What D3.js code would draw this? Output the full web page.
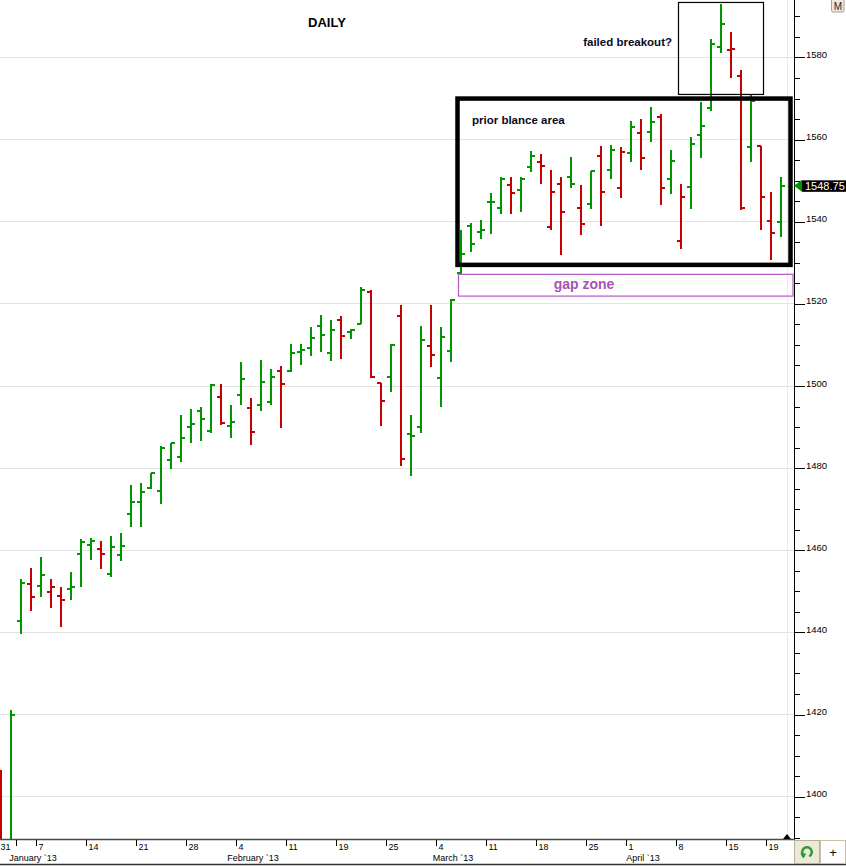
<!DOCTYPE html>
<html>
<head>
<meta charset="utf-8">
<script src="https://cdn.jsdelivr.net/npm/d3@7"></script>
<style>
  body { margin: 0; background: #fff; }
  svg { display: block; font-family: "Liberation Sans", Arial, sans-serif; }
</style>
</head>
<body>
<svg id="chart"></svg>
<script>
const width = 846;
const height = 867;
const plot = {left: 0, right: 794, top: 0, bottom: 839};

// Daily OHLC bars, one per trading day (first bar = 28 Dec)
const opens = [1403, 1387, 1442.8, 1451.8, 1451.3, 1449.9, 1448.9, 1450.5, 1459.1, 1461.3,
    1460.4, 1454.3, 1458.8, 1468.9, 1471.8, 1475.2, 1474.5, 1482.0, 1482.8, 1490.1,
    1493.9, 1489.1, 1497.4, 1490.3, 1497.9, 1494.7, 1495.4, 1496.2, 1503.7, 1503.7,
    1508.3, 1509.3, 1514.7, 1508.1, 1516.1, 1513.2, 1515.1, 1522.9, 1500.8, 1502.2,
    1517.1, 1488.4, 1490.1, 1509.7, 1502.0, 1508.6, 1527.6, 1538.9, 1537.5, 1544.7,
    1543.4, 1548.9, 1547.8, 1553.4, 1554.5, 1538.8, 1549.2, 1550.9, 1543.4, 1544.4,
    1556.1, 1552.5, 1548.3, 1556.8, 1561.7, 1561.9, 1565.6, 1550.4, 1535.4, 1548.4,
    1561.1, 1567.8, 1582.6, 1581.9, 1575.5, 1558.3, 1558.5, 1540.2, 1540.0];

const highs = [1406.5, 1421.0, 1453.1, 1455.6, 1458.3, 1452.9, 1451.0, 1454.7, 1462.7, 1462.9,
    1462.2, 1463.4, 1464.1, 1475.9, 1476.4, 1478.9, 1485.3, 1486.2, 1492.9, 1494.5,
    1494.9, 1500.5, 1500.6, 1495.3, 1505.8, 1497.1, 1506.3, 1504.1, 1504.8, 1510.2,
    1510.2, 1514.3, 1517.3, 1516.1, 1517.0, 1513.8, 1524.1, 1523.3, 1500.8, 1510.2,
    1519.7, 1492.9, 1514.6, 1519.7, 1514.3, 1521.1, 1538.0, 1539.8, 1540.4, 1547.1,
    1550.8, 1551.0, 1550.9, 1557.2, 1556.5, 1552.6, 1551.0, 1555.7, 1548.9, 1552.4,
    1558.4, 1558.7, 1558.1, 1564.5, 1565.0, 1567.9, 1566.2, 1557.5, 1549.2, 1560.7,
    1569.1, 1584.5, 1593.0, 1586.2, 1576.9, 1570.8, 1558.5, 1547.2, 1550.9];

const lows = [1385, 1385, 1439.5, 1445.3, 1448.7, 1446.0, 1441.4, 1447.9, 1451.1, 1457.7,
    1455.5, 1453.5, 1457.4, 1465.6, 1465.7, 1475.0, 1471.2, 1479.9, 1481.5, 1486.2,
    1486.7, 1488.5, 1490.4, 1487.4, 1495.4, 1485.7, 1494.0, 1495.4, 1489.8, 1503.3,
    1505.2, 1507.4, 1508.3, 1506.1, 1506.6, 1511.5, 1515.1, 1501.9, 1490.3, 1498.6,
    1480.6, 1478.1, 1488.6, 1504.7, 1494.9, 1505.9, 1527.3, 1532.7, 1535.9, 1537.1,
    1541.9, 1542.0, 1542.4, 1552.0, 1549.1, 1537.9, 1532.0, 1548.1, 1536.7, 1543.2,
    1539.0, 1550.5, 1545.8, 1554.6, 1552.7, 1559.5, 1544.1, 1546.8, 1533.4, 1543.2,
    1555.6, 1567.0, 1581.2, 1575.1, 1542.8, 1554.6, 1538.0, 1530.7, 1536.3];

const closes = [1386, 1420.0, 1452.1, 1448.6, 1454.0, 1451.1, 1447.9, 1451.1, 1462.1, 1462.3,
    1459.1, 1460.8, 1461.1, 1471.8, 1474.2, 1478.9, 1484.9, 1486.2, 1487.4, 1490.8,
    1492.0, 1500.3, 1491.0, 1491.3, 1501.8, 1488.8, 1501.0, 1502.2, 1500.5, 1508.1,
    1508.8, 1511.7, 1512.5, 1513.7, 1512.2, 1513.7, 1523.4, 1502.2, 1496.4, 1510.0,
    1482.3, 1487.9, 1511.3, 1507.6, 1512.0, 1521.0, 1532.1, 1534.6, 1538.1, 1544.9,
    1550.5, 1547.1, 1550.5, 1556.1, 1553.6, 1547.3, 1542.4, 1549.2, 1539.5, 1552.3,
    1547.3, 1557.5, 1556.9, 1563.1, 1555.6, 1564.3, 1548.2, 1554.8, 1546.1, 1558.9,
    1563.4, 1583.3, 1588.2, 1582.1, 1543.4, 1569.3, 1546.1, 1537.3, 1548.75];

// Time axis: weekly ticks (bar slot index) and month labels
const dayTicks = [0, 4, 9, 14, 19, 24, 29, 34, 39, 44, 49, 54, 59, 63, 68, 73, 77];
const dayLabels = ['31', '7', '14', '21', '28', '4', '11', '19', '25', '4', '11', '18', '25', '1', '8', '15', '19'];
const monthTicks = [2, 24, 44, 63];
const monthLabels = ['January `13', 'February `13', 'March `13', 'April `13'];

// Price axis
const majorPrices = [1400, 1420, 1440, 1460, 1480, 1500, 1520, 1540, 1560, 1580];
const minorPrices = d3.range(1390, 1595, 5);

// Annotation boxes: [fromSlot, toSlot, lowPrice, highPrice]
const breakoutBox = [68.25, 76.75, 1571.0, 1593.4];
const balanceBox = [46.15, 79.45, 1529.5, 1570.0];
const gapZone = [46.25, 79.7, 1521.9, 1527.2];

const upColor = '#009600';
const downColor = '#c40000';

const svg = d3.select('#chart')
    .attr('width', width)
    .attr('height', height);

const x = d3.scaleLinear().domain([0, 79]).range([-4, 786]);
const y = d3.scaleLinear().domain([1389.7, 1594]).range([plot.bottom, plot.top]);

svg.append('defs').append('clipPath').attr('id', 'plot-clip')
    .append('rect')
    .attr('x', plot.left).attr('y', plot.top)
    .attr('width', plot.right - plot.left).attr('height', plot.bottom - plot.top);

// Gridlines
svg.append('g')
    .selectAll('line')
    .data(majorPrices)
    .enter().append('line')
    .attr('x1', plot.left).attr('x2', plot.right)
    .attr('y1', d => y(d)).attr('y2', d => y(d))
    .attr('stroke', '#e3e3e3')
    .attr('shape-rendering', 'crispEdges');

svg.append('line')
    .attr('x1', 787).attr('x2', 787)
    .attr('y1', plot.top).attr('y2', plot.bottom)
    .attr('stroke', '#ebebeb')
    .attr('shape-rendering', 'crispEdges');

// OHLC bars, coloured by close vs previous close
const bars = opens.map((o, i) => ({
    i: i, open: o, high: highs[i], low: lows[i], close: closes[i],
    up: closes[i] >= (i > 0 ? closes[i - 1] : o)
}));

const barG = svg.append('g')
    .attr('clip-path', 'url(#plot-clip)')
    .attr('shape-rendering', 'crispEdges');

const bar = barG.selectAll('.bar')
    .data(bars)
    .enter().append('g')
    .attr('class', 'bar')
    .attr('stroke', d => d.up ? upColor : downColor)
    .attr('stroke-width', 2);

bar.append('line')
    .attr('x1', d => x(d.i + 0.5)).attr('x2', d => x(d.i + 0.5))
    .attr('y1', d => y(d.high)).attr('y2', d => y(d.low));

bar.append('line')
    .attr('x1', d => x(d.i + 0.5) - 4).attr('x2', d => x(d.i + 0.5))
    .attr('y1', d => y(d.open)).attr('y2', d => y(d.open));

bar.append('line')
    .attr('x1', d => x(d.i + 0.5)).attr('x2', d => x(d.i + 0.5) + 4)
    .attr('y1', d => y(d.close)).attr('y2', d => y(d.close));

// Annotations
function boxRect(b) {
    return {x: x(b[0]), y: y(b[3]), w: x(b[1]) - x(b[0]), h: y(b[2]) - y(b[3])};
}

const bb = boxRect(breakoutBox);
svg.append('rect')
    .attr('x', bb.x).attr('y', bb.y).attr('width', bb.w).attr('height', bb.h)
    .attr('fill', 'none').attr('stroke', '#000').attr('stroke-width', 1.2);

const ba = boxRect(balanceBox);
svg.append('rect')
    .attr('x', ba.x).attr('y', ba.y).attr('width', ba.w).attr('height', ba.h)
    .attr('fill', 'none').attr('stroke', '#000').attr('stroke-width', 4.5);

const gz = boxRect(gapZone);
svg.append('rect')
    .attr('x', gz.x).attr('y', gz.y).attr('width', gz.w).attr('height', gz.h)
    .attr('fill', 'none').attr('stroke', '#b455c4').attr('stroke-width', 1.2);

svg.append('text')
    .attr('x', 584).attr('y', 288.5)
    .attr('text-anchor', 'middle')
    .style('font-size', '14px').style('font-weight', 'bold')
    .style('fill', '#a653b6')
    .text('gap zone');

svg.append('text')
    .attr('x', 472).attr('y', 124)
    .style('font-size', '11.5px').style('font-weight', 'bold')
    .style('fill', '#0a0a1e')
    .text('prior blance area');

svg.append('text')
    .attr('x', 672).attr('y', 45.5)
    .attr('text-anchor', 'end')
    .style('font-size', '11.5px').style('font-weight', 'bold')
    .style('fill', '#0a0a1e')
    .text('failed breakout?');

svg.append('text')
    .attr('x', 327).attr('y', 27)
    .attr('text-anchor', 'middle')
    .style('font-size', '13px').style('font-weight', 'bold')
    .style('fill', '#000')
    .text('DAILY');

// Right price axis
svg.append('line')
    .attr('x1', plot.right + 0.5).attr('x2', plot.right + 0.5)
    .attr('y1', 0).attr('y2', plot.bottom)
    .attr('stroke', '#000');

svg.append('g')
    .attr('transform', `translate(${plot.right},0)`)
    .call(d3.axisRight(y).tickValues(minorPrices).tickSize(6).tickFormat(''))
    .call(g => g.select('.domain').remove())
    .call(g => g.selectAll('line').attr('stroke', '#000').attr('shape-rendering', 'crispEdges'));

svg.append('g')
    .attr('transform', `translate(${plot.right},0)`)
    .call(d3.axisRight(y).tickValues(majorPrices).tickSize(11).tickPadding(1).tickFormat(d3.format('d')))
    .call(g => g.select('.domain').remove())
    .call(g => g.selectAll('line').attr('stroke', '#000').attr('shape-rendering', 'crispEdges'))
    .call(g => g.selectAll('text')
        .attr('dy', 0)
        .style('font-family', '"Liberation Sans", Arial, sans-serif')
        .style('font-size', '9.5px')
        .style('fill', '#000'));

// Last price tag
const last = closes[closes.length - 1];
const ly = y(last);
svg.append('path')
    .attr('d', `M${plot.right},${ly} L${plot.right + 8},${ly - 6} L${plot.right + 8},${ly + 6} Z`)
    .attr('fill', upColor);
svg.append('rect')
    .attr('x', plot.right + 8).attr('y', ly - 5.5)
    .attr('width', width - plot.right - 8).attr('height', 11.5)
    .attr('fill', '#000');
svg.append('text')
    .attr('x', plot.right + 11).attr('y', ly + 4.3)
    .style('font-size', '11px').style('fill', '#fff')
    .text(d3.format('.2f')(last));

// Bottom time axis
svg.append('line')
    .attr('x1', 0).attr('x2', plot.right + 1)
    .attr('y1', plot.bottom + 0.5).attr('y2', plot.bottom + 0.5)
    .attr('stroke', '#4a4a4a').attr('stroke-width', 1.5);

svg.append('g')
    .attr('transform', `translate(0,${plot.bottom + 1})`)
    .call(d3.axisBottom(x).tickValues(dayTicks).tickSize(6).tickFormat((d, i) => dayLabels[i]))
    .call(g => g.select('.domain').remove())
    .call(g => g.selectAll('line').attr('stroke', '#000').attr('shape-rendering', 'crispEdges'))
    .call(g => g.selectAll('text')
        .attr('text-anchor', 'start')
        .attr('x', d => Math.max(2, -x(d)))
        .attr('y', 10)
        .attr('dy', 0)
        .style('font-family', '"Liberation Sans", Arial, sans-serif')
        .style('font-size', '9px')
        .style('fill', '#000'));

svg.append('g')
    .attr('transform', `translate(0,${plot.bottom + 1})`)
    .call(d3.axisBottom(x).tickValues(monthTicks).tickSize(6).tickFormat(''))
    .call(g => g.select('.domain').remove())
    .call(g => g.selectAll('line').attr('stroke', '#000').attr('shape-rendering', 'crispEdges'));

svg.append('g')
    .selectAll('text')
    .data(monthTicks)
    .enter().append('text')
    .attr('x', d => x(d) + 17)
    .attr('y', 861)
    .attr('text-anchor', 'middle')
    .style('font-size', '9px')
    .style('fill', '#000')
    .text((d, i) => monthLabels[i]);

svg.append('line')
    .attr('x1', 0).attr('x2', width)
    .attr('y1', 864.5).attr('y2', 864.5)
    .attr('stroke', '#333').attr('stroke-width', 1.5);

// Small scroll marker at the end of the time axis
svg.append('path')
    .attr('d', `M${x(78.7)},${plot.bottom} L${x(79.1)},${plot.bottom - 5} L${x(79.5)},${plot.bottom} Z`)
    .attr('fill', '#000');

// Toolbar buttons
svg.append('rect')
    .attr('x', 794.5).attr('y', 840.5).attr('width', 25).attr('height', 23)
    .attr('fill', '#ece9d8').attr('stroke', '#b8b09a');
svg.append('path')
    .attr('transform', 'translate(807,852)')
    .attr('d', d3.arc().innerRadius(3.6).outerRadius(6)
        .startAngle(Math.PI * 1.15).endAngle(Math.PI * 2.85)())
    .attr('fill', '#2e9a2e');
svg.append('path')
    .attr('d', 'M800.2,853.5 L806.2,853.5 L803.2,858.5 Z')
    .attr('fill', '#2e9a2e');

svg.append('rect')
    .attr('x', 820.5).attr('y', 840.5).attr('width', 25).attr('height', 23)
    .attr('fill', '#fff').attr('stroke', '#c8c0a8');
svg.append('text')
    .attr('x', 833).attr('y', 857)
    .attr('text-anchor', 'middle')
    .style('font-size', '13px').style('fill', '#000')
    .text('+');

svg.append('rect')
    .attr('x', 831.5).attr('y', -1).attr('width', 12.5).attr('height', 13)
    .attr('rx', 1.5)
    .attr('fill', '#ece9d8').attr('stroke', '#a8a08a');
svg.append('text')
    .attr('x', 837.8).attr('y', 9.5)
    .attr('text-anchor', 'middle')
    .style('font-size', '10px').style('fill', '#1a1a40')
    .text('M');
</script>
</body>
</html>
